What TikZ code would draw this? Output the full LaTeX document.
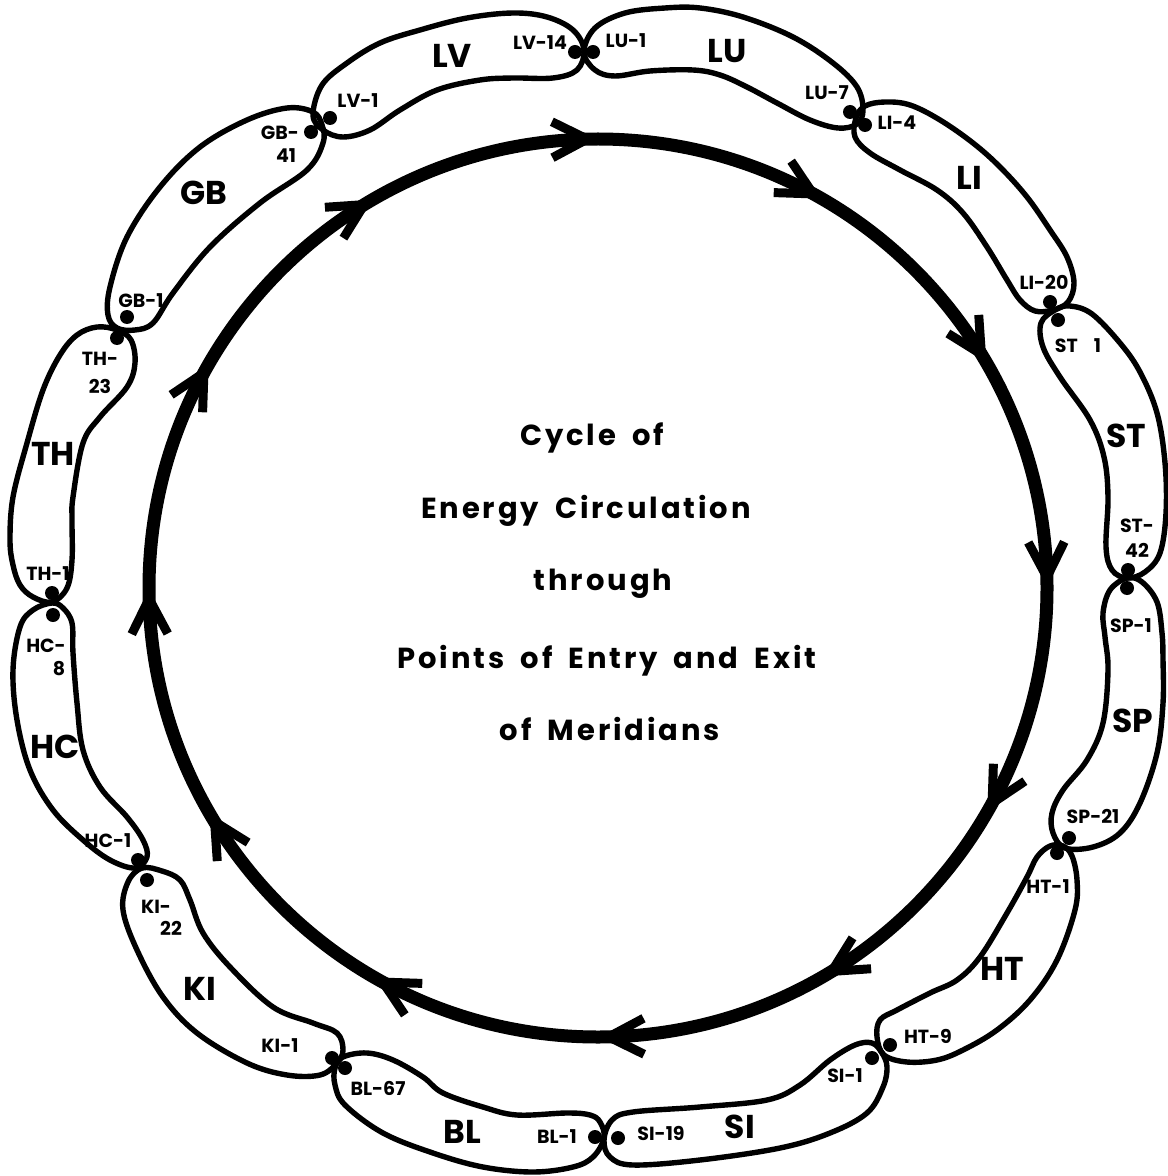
\documentclass[tikz,border=0pt]{standalone}
\usepackage{fontspec}
\setmainfont{Poppins}
\usetikzlibrary{arrows.meta}
\begin{document}
\begin{tikzpicture}[x=0.5pt,y=-0.5pt,
  lobe/.style={line width=2.7pt, line join=round},
  dotpt/.style={circle, fill=black, inner sep=0pt, minimum size=7pt},
  sml/.style={font=\bfseries\fontsize{9.5}{10}\selectfont, inner sep=0pt, anchor=base},
  big/.style={font=\bfseries\fontsize{16.5}{17}\selectfont, inner sep=0pt, anchor=base},
  ttl/.style={font={\bfseries\fontsize{14.5}{15}\selectfont\addfontfeatures{LetterSpace=10}\spaceskip=8pt plus 1pt}, inner sep=0pt, anchor=base},
  flow/.style={line width=6.5pt},
  barb/.style={fill=black}]
\useasboundingbox (0,0) rectangle (1167,1176);
\coordinate (c) at (598,588);
% inner cycle
\draw[flow] (c) circle[radius=449];
\begin{scope}[shift={(c)}, x=0.5pt, y=0.5pt]
\foreach \a in {0,30,...,330} {
  \fill[barb, shift={(\a+1:449)}, rotate=\a-89]
    (7,0) -- (-36,-22) -- (-40,-14) -- (-13,0) -- (-40,14) -- (-36,22) -- cycle;
}
\end{scope}
% lobes
\draw[lobe] plot[smooth cycle, tension=0.6] coordinates {(313,115) (322,85) (347,63) (380,43) (420,30) (467,18) (513,13) (547,17) (573,30) (584,50) (577,70) (553,78) (513,78) (480,80) (437,90) (400,110) (370,130) (343,137) (323,130)};
\draw[lobe] plot[smooth cycle, tension=0.6] coordinates {(584,52) (595,28) (625,13) (665,8) (700,8) (743,17) (793,37) (833,63) (857,87) (863,110) (857,124) (838,128) (810,120) (777,103) (747,87) (720,75) (693,70) (650,71) (615,76) (595,70)};
\draw[lobe] plot[smooth cycle, tension=0.6] coordinates {(856,118) (865,106) (885,102) (910,105) (940,120) (973,143) (1000,167) (1027,197) (1050,230) (1067,257) (1074,283) (1068,302) (1053,310) (1035,311) (1020,300) (1007,280) (987,247) (963,213) (937,190) (900,170) (870,153) (855,137)};
\draw[lobe] plot[smooth cycle, tension=0.6] coordinates {(1055,310) (1070,306) (1092,314) (1120,343) (1140,372) (1157,413) (1165,463) (1166,513) (1160,553) (1145,572) (1127,578) (1112,570) (1106,547) (1108,497) (1104,457) (1090,420) (1060,377) (1043,347) (1041,323)};
\draw[lobe] plot[smooth cycle, tension=0.6] coordinates {(1127,578) (1142,582) (1157,602) (1162,633) (1163,660) (1163,703) (1157,753) (1140,803) (1120,833) (1093,847) (1065,848) (1053,833) (1052,813) (1063,790) (1087,760) (1103,723) (1108,670) (1105,637) (1103,613) (1110,590)};
\draw[lobe] plot[smooth cycle, tension=0.6] coordinates {(1063,846) (1072,856) (1077,880) (1075,910) (1057,960) (1030,1000) (997,1030) (963,1050) (937,1060) (907,1062) (884,1055) (877,1037) (880,1020) (897,1010) (930,993) (957,980) (980,957) (1007,913) (1027,877) (1037,857) (1050,846)};
\draw[lobe] plot[smooth cycle, tension=0.6] coordinates {(882,1053) (887,1067) (883,1087) (867,1113) (830,1133) (780,1148) (700,1160) (633,1165) (610,1157) (604,1140) (612,1120) (633,1112) (700,1107) (767,1100) (800,1085) (830,1060) (855,1045) (872,1043)};
\draw[lobe] plot[smooth cycle, tension=0.6] coordinates {(604,1138) (600,1122) (590,1115) (567,1113) (517,1115) (483,1107) (443,1093) (423,1077) (393,1060) (367,1053) (343,1057) (335,1068) (335,1085) (345,1105) (383,1133) (433,1153) (483,1167) (533,1172) (573,1167) (593,1157)};
\draw[lobe] plot[smooth cycle, tension=0.6] coordinates {(337,1063) (343,1050) (337,1033) (313,1023) (273,1007) (230,967) (203,933) (190,900) (180,880) (162,871) (142,868) (128,882) (123,910) (137,950) (163,997) (197,1033) (247,1063) (287,1075) (320,1075)};
\draw[lobe] plot[smooth cycle, tension=0.6] coordinates {(52,603) (63,608) (72,623) (73,653) (77,703) (83,750) (100,787) (127,817) (143,840) (147,857) (135,868) (110,860) (83,840) (53,810) (30,770) (17,720) (13,670) (20,627) (33,610)};
\draw[lobe] plot[smooth cycle, tension=0.6] coordinates {(52,602) (67,588) (72,560) (72,520) (73,497) (83,443) (100,417) (127,387) (135,363) (131,340) (117,330) (97,327) (77,335) (60,355) (43,390) (27,443) (13,497) (10,540) (13,565) (20,585) (33,597)};
\draw[lobe] plot[smooth cycle, tension=0.6] coordinates {(117,328) (108,315) (110,287) (127,237) (160,187) (200,147) (247,120) (287,108) (313,112) (322,125) (323,143) (307,170) (260,203) (210,247) (173,293) (153,323) (135,330)};
% dots
\node[dotpt] (dLV14) at (575,52) {};
\node[dotpt] (dLU1) at (593,52) {};
\node[dotpt] (dLV1) at (330,118) {};
\node[dotpt] (dGB41) at (311,132) {};
\node[dotpt] (dLU7) at (850,112) {};
\node[dotpt] (dLI4) at (865,125) {};
\node[dotpt] (dLI20) at (1050,302) {};
\node[dotpt] (dST1) at (1058,320) {};
\node[dotpt] (dST42) at (1128,570) {};
\node[dotpt] (dSP1) at (1127,588) {};
\node[dotpt] (dSP21) at (1069,838) {};
\node[dotpt] (dHT1) at (1057,853) {};
\node[dotpt] (dHT9) at (890,1045) {};
\node[dotpt] (dSI1) at (872,1058) {};
\node[dotpt] (dSI19) at (618,1138) {};
\node[dotpt] (dBL1) at (595,1137) {};
\node[dotpt] (dBL67) at (345,1068) {};
\node[dotpt] (dKI1) at (332,1058) {};
\node[dotpt] (dKI22) at (147,880) {};
\node[dotpt] (dHC1) at (138,860) {};
\node[dotpt] (dHC8) at (53,615) {};
\node[dotpt] (dTH1) at (52,593) {};
\node[dotpt] (dTH23) at (117,338) {};
\node[dotpt] (dGB1) at (127,317) {};
% meridian names
\node[big] (nLV) at (452,68) {LV};
\node[big] (nLU) at (727,63) {LU};
\node[big] (nLI) at (969,190) {LI};
\node[big] (nST) at (1126,447) {ST};
\node[big] (nSP) at (1133,732) {SP};
\node[big] (nHT) at (1002,980) {HT};
\node[big] (nSI) at (740,1138) {SI};
\node[big] (nBL) at (462,1143) {BL};
\node[big] (nKI) at (200,1000) {KI};
\node[big] (nHC) at (55,758) {HC};
\node[big] (nTH) at (53,465) {TH};
\node[big] (nGB) at (204,205) {GB};
% point labels
\node[sml] (lLV14) at (540,50) {LV-14};
\node[sml] (lLU1) at (626,48) {LU-1};
\node[sml] (lLV1) at (358,108) {LV-1};
\node[sml] (lLU7) at (827,100) {LU-7};
\node[sml] (lLI4) at (897,130) {LI-4};
\node[sml] (lLI20) at (1044,290) {LI-20};
\node[sml] (lST1) at (1078,352) {ST\hspace{8pt}1};
\node[sml] (lST42a) at (1137,532) {ST-};
\node[sml] (lST42b) at (1137,557) {42};
\node[sml] (lSP1) at (1131,632) {SP-1};
\node[sml] (lSP21) at (1093,823) {SP-21};
\node[sml] (lHT1) at (1048,893) {HT-1};
\node[sml] (lHT9) at (928,1043) {HT-9};
\node[sml] (lSI1) at (845,1082) {SI-1};
\node[sml] (lSI19) at (661,1140) {SI-19};
\node[sml] (lBL1) at (557,1143) {BL-1};
\node[sml] (lBL67) at (378,1095) {BL-67};
\node[sml] (lKI1) at (280,1052) {KI-1};
\node[sml] (lKI22a) at (156,913) {KI-};
\node[sml] (lKI22b) at (171,935) {22};
\node[sml] (lHC1) at (108,847) {HC-1};
\node[sml] (lHC8a) at (46,652) {HC-};
\node[sml] (lHC8b) at (59,675) {8};
\node[sml] (lTH1) at (48,580) {TH-1};
\node[sml] (lTH23a) at (100,365) {TH-};
\node[sml] (lTH23b) at (100,393) {23};
\node[sml] (lGB1) at (141,307) {GB-1};
\node[sml] (lGB41a) at (280,140) {GB-};
\node[sml] (lGB41b) at (286,163) {41};
% title
\node[ttl] (t1) at (592,445) {Cycle of};
\node[ttl] (t2) at (586,518) {Energy Circulation};
\node[ttl] (t3) at (603,590) {through};
\node[ttl] (t4) at (607,668) {Points of Entry and Exit};
\node[ttl] (t5) at (610,740) {of Meridians};
\end{tikzpicture}
\end{document}
